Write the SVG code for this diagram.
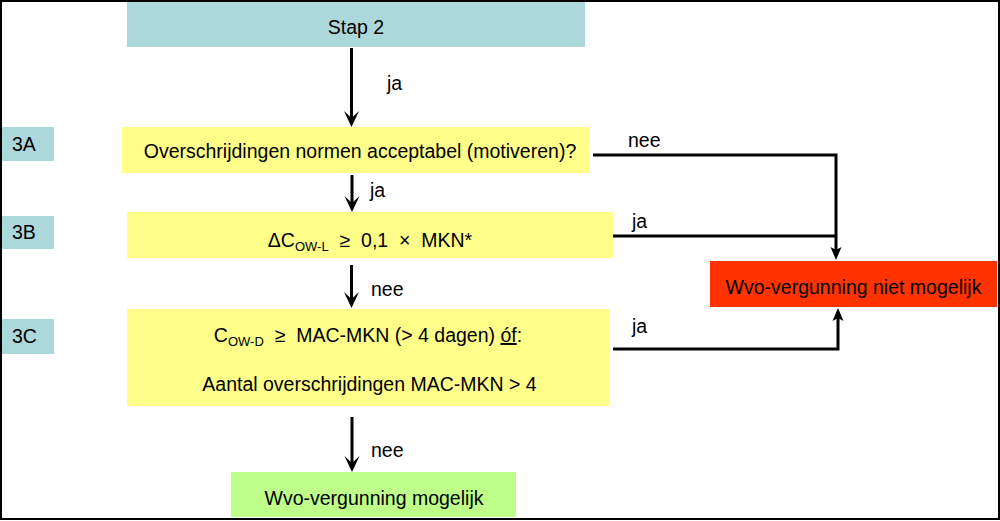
<svg xmlns="http://www.w3.org/2000/svg" width="1000" height="521" viewBox="0 0 1000 521">
<style>
text{font-family:"Liberation Sans",Arial,sans-serif;font-size:19.5px;fill:#000}
.c{text-anchor:middle}
.teal{fill:#ADD8DB}
.yel{fill:#FFFF8A}
.conn path{fill:none;stroke:#000;stroke-width:3;stroke-linejoin:miter}
</style>
<defs>
<marker id="big" viewBox="0 -8 16 16" markerUnits="userSpaceOnUse" markerWidth="16" markerHeight="16" refX="10" refY="0" orient="auto">
<path d="M16,0 L0,-7.5 L7,0 L0,7.5 Z" fill="#000"/>
</marker>
<marker id="small" viewBox="0 -6 13 12" markerUnits="userSpaceOnUse" markerWidth="13" markerHeight="12" refX="7" refY="0" orient="auto">
<path d="M13,0 L0,-5.5 L3,0 L0,5.5 Z" fill="#000"/>
</marker>
</defs>
<rect width="1000" height="521" fill="#fff"/>
<g id="stap2"><rect class="teal" x="127" y="2" width="458" height="45"/><text class="c" x="356" y="34">Stap 2</text></g>
<g id="label3A"><rect class="teal" x="2" y="127" width="52" height="34"/><text x="12" y="151">3A</text></g>
<g id="label3B"><rect class="teal" x="2" y="216" width="52" height="33"/><text x="12" y="239">3B</text></g>
<g id="label3C"><rect class="teal" x="2" y="319" width="52" height="35"/><text x="12" y="343">3C</text></g>
<g id="step3A"><rect class="yel" x="122" y="127" width="467" height="46"/><text class="c" x="360" y="158" font-size="20.3">Overschrijdingen normen acceptabel (motiveren)?</text></g>
<g id="step3B"><rect class="yel" x="127" y="212" width="486" height="46"/><text class="c" x="370" y="247" xml:space="preserve">ΔC<tspan font-size="13" dy="4">OW-L</tspan><tspan dy="-4">  ≥  0,1  ×  MKN*</tspan></text></g>
<g id="step3C"><rect class="yel" x="127" y="309" width="482" height="97"/><text class="c" x="368" y="342" xml:space="preserve">C<tspan font-size="13" dy="4">OW-D</tspan><tspan dy="-4">  ≥  MAC-MKN (&gt; 4 dagen) </tspan><tspan text-decoration="underline">óf</tspan>:</text><text class="c" x="369.5" y="391">Aantal overschrijdingen MAC-MKN &gt; 4</text></g>
<g id="nietMogelijk"><rect x="710" y="261" width="287" height="46" fill="#FF3300"/><text class="c" x="853.5" y="294">Wvo-vergunning niet mogelijk</text></g>
<g id="mogelijk"><rect x="231" y="472" width="285" height="45" fill="#BEFF8A"/><text class="c" x="374" y="505">Wvo-vergunning mogelijk</text></g>
<g id="connectors" class="conn">
<path d="M351.5,48 V121" marker-end="url(#big)"/>
<path d="M352,175 V206" marker-end="url(#big)"/>
<path d="M351.5,265 V302" marker-end="url(#big)"/>
<path d="M352,417 V466" marker-end="url(#big)"/>
<path d="M593,155 H836 V254" marker-end="url(#small)"/>
<path d="M613,236 H836"/>
<path d="M613,349 H838 V314" marker-end="url(#small)"/>
</g>
<g id="connectorLabels">
<text x="387" y="90">ja</text>
<text x="370" y="197">ja</text>
<text x="371" y="296">nee</text>
<text x="371" y="457">nee</text>
<text x="628" y="147">nee</text>
<text x="632" y="228">ja</text>
<text x="632" y="333">ja</text>
</g>
<rect x="1" y="1" width="998" height="518" fill="none" stroke="#000" stroke-width="2"/>
</svg>
